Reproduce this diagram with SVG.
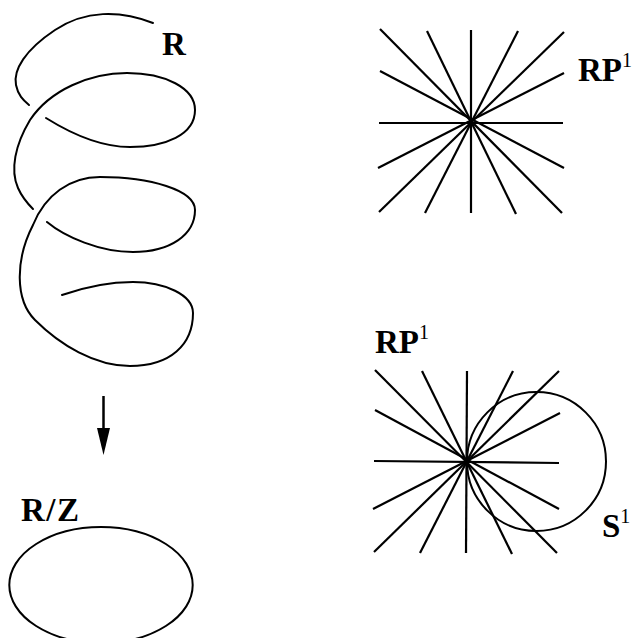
<svg xmlns="http://www.w3.org/2000/svg" width="634" height="638" viewBox="0 0 634 638">
<style>
.c{fill:none;stroke:#000;stroke-width:2;stroke-linecap:round}
.s{stroke:#000;stroke-width:2.2;stroke-linecap:butt}
.t{font-family:"Liberation Serif","Times New Roman",serif;font-weight:bold;font-size:33px;fill:#000}
.sup{font-weight:normal;font-size:20px}
</style>
<rect width="634" height="638" fill="#fff"/>
<g id="helix">
<path class="c" d="M153,23 C120,10 85,10 55,30 C25,50 13,70 16,85 C18,95 23,100 29,105"/>
<path class="c" d="M46,118 C70,133 100,147 130,147 C165,147 195,135 195,110 C195,88 165,73 127,73 C90,73 50,90 30,120 C15,145 10,170 18,188 C22,197 27,203 33,209"/>
<path class="c" d="M47,222 C65,237 100,252 133,252 C170,252 195,235 195,210 C195,190 150,177 100,177 C70,177 45,195 33,225 C15,260 15,300 35,320 C60,345 95,366 130,366 C170,366 193,345 193,313 C193,295 165,282 133,282 C110,282 85,287 62,295"/>
<text class="t" x="162" y="55">R</text>
</g>
<g id="connectors">
<line x1="103.5" y1="396" x2="103.5" y2="430" stroke="#000" stroke-width="2.5"/>
<polygon points="97,428 110,428 103.5,455" fill="#000"/>
</g>
<g id="circle-quotient">
<ellipse cx="101" cy="585" rx="91.7" ry="58" class="c"/>
<text class="t" x="21" y="521" letter-spacing="1.5">R/Z</text>
</g>
<g id="rp1-top">
<line class="s" x1="380" y1="29" x2="562" y2="213"/>
<line class="s" x1="427" y1="31" x2="516" y2="214"/>
<line class="s" x1="471" y1="30" x2="471" y2="213"/>
<line class="s" x1="518" y1="31" x2="425" y2="213"/>
<line class="s" x1="564" y1="32" x2="379" y2="212"/>
<line class="s" x1="380" y1="71" x2="564" y2="168"/>
<line class="s" x1="564" y1="73" x2="378" y2="168"/>
<line class="s" x1="379" y1="123" x2="563" y2="123"/>
<text class="t" x="578" y="81">RP<tspan class="sup" dy="-14">1</tspan></text>
</g>
<g id="rp1-bottom">
<line class="s" x1="375" y1="370" x2="557" y2="553"/>
<line class="s" x1="422" y1="371" x2="512" y2="554"/>
<line class="s" x1="467" y1="371" x2="466" y2="553"/>
<line class="s" x1="513" y1="371" x2="420" y2="553"/>
<line class="s" x1="559" y1="371" x2="374" y2="552"/>
<line class="s" x1="375" y1="410" x2="559" y2="509"/>
<line class="s" x1="560" y1="413" x2="373" y2="509"/>
<line class="s" x1="374" y1="461" x2="559" y2="463"/>
<circle class="c" cx="536.5" cy="461.5" r="69.5"/>
<text class="t" x="375" y="353">RP<tspan class="sup" dy="-14">1</tspan></text>
<text class="t" x="602" y="537">S<tspan class="sup" dy="-14">1</tspan></text>
</g>
</svg>
